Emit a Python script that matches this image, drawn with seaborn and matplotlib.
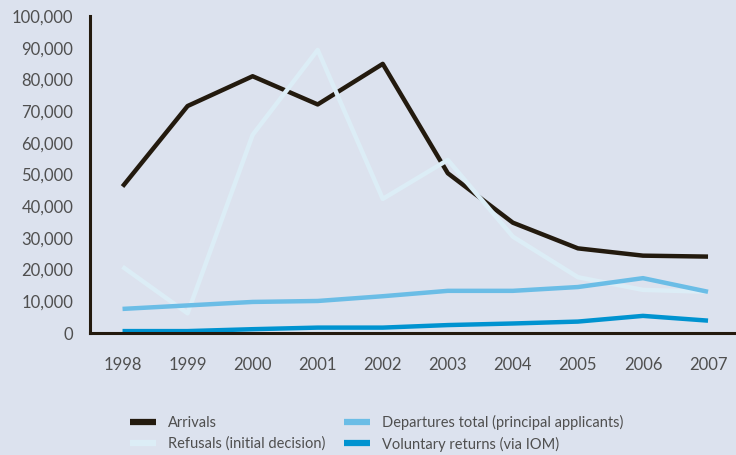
import pandas as pd
import matplotlib.pyplot as plt
import matplotlib.ticker as mticker
import seaborn as sns

years = ["1998", "1999", "2000", "2001", "2002", "2003", "2004", "2005", "2006", "2007"]
arrivals = [46200, 71600, 81000, 72100, 84900, 50400, 34800, 26700, 24400, 24100]
refusals = [20900, 6200, 62500, 89300, 42300, 54600, 30400, 17600, 13600, 13000]
departures = [7600, 8700, 9800, 10100, 11600, 13300, 13300, 14500, 17300, 13000]
voluntary = [600, 600, 1200, 1700, 1700, 2500, 3000, 3600, 5400, 3900]

series_names = ["Arrivals", "Refusals (initial decision)",
                "Departures total (principal applicants)", "Voluntary returns (via IOM)"]
colors = ["#231a0e", "#dcedf6", "#6bbde6", "#0093d0"]

df = pd.DataFrame({"year_idx": list(range(len(years))) * 4,
                   "value": arrivals + refusals + departures + voluntary,
                   "series": [s for s in series_names for _ in years]})

bg = "#dce2ee"
txt = "#4f4f4f"
sns.set_style("white")
plt.rcParams["font.family"] = ["Lato", "DejaVu Sans"]

fig = plt.figure(figsize=(7.36, 4.55), dpi=100, facecolor=bg)
ax = fig.add_axes([90 / 736, 1 - 333 / 455, 1 - 90 / 736, 317 / 455])
ax.set_facecolor(bg)

sns.lineplot(data=df, x="year_idx", y="value", hue="series", hue_order=series_names,
             palette=colors, linewidth=3.2, ax=ax, legend=False)
for ln in ax.get_lines():
    ln.set_solid_capstyle("butt")

ax.set_xlim(-0.5, 9.43)
ax.set_ylim(0, 100000)
ax.set_xticks([i - 0.5 for i in range(len(years))])
ax.set_xticks(range(len(years)), minor=True)
ax.set_xticklabels([])
ax.set_xticklabels(years, minor=True)
ax.yaxis.set_major_locator(mticker.MultipleLocator(10000))
ax.yaxis.set_major_formatter(mticker.FuncFormatter(lambda v, _: f"{int(v):,}"))
ax.tick_params(axis="x", which="major", direction="out", length=8, width=2, color="#231a0e")
ax.tick_params(axis="x", which="minor", length=0, pad=17, labelsize=12, labelcolor=txt)
ax.tick_params(axis="y", direction="out", length=9, width=2, color="#231a0e",
               labelsize=12, labelcolor=txt, pad=3)
for side in ["top", "right"]:
    ax.spines[side].set_visible(False)
for side in ["left", "bottom"]:
    ax.spines[side].set_linewidth(2.2)
    ax.spines[side].set_color("#231a0e")
ax.set_xlabel("")
ax.set_ylabel("")

handles = [plt.Line2D([], [], color=c, linewidth=4.5, solid_capstyle="butt") for c in colors]
fig.legend(handles, series_names, loc="upper left", bbox_to_anchor=(124 / 736, 1 - 409 / 455),
           ncol=2, frameon=False, fontsize=10.5, handlelength=1.8, labelcolor=txt,
           columnspacing=1.3, handletextpad=0.8, labelspacing=0.45, borderaxespad=0)

fig.savefig("out.png", dpi=100, facecolor=bg)
